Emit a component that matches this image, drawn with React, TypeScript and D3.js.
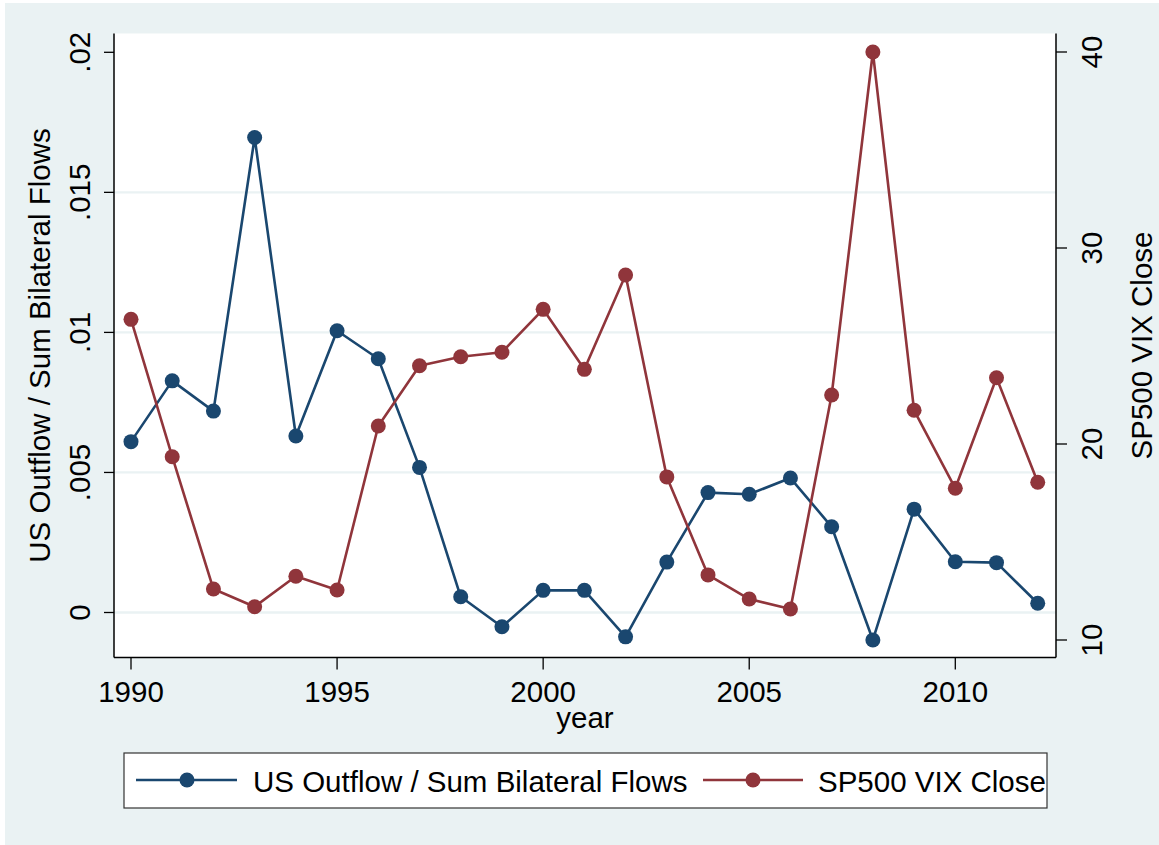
import React from "react";
import * as d3 from "d3";

const years = [1990,1991,1992,1993,1994,1995,1996,1997,1998,1999,2000,2001,2002,2003,2004,2005,2006,2007,2008,2009,2010,2011,2012];
const outflowShare = [0.0061,0.00827,0.00719,0.01696,0.0063,0.01006,0.00906,0.00518,0.00056,-0.00051,0.00079,0.00079,-0.00087,0.0018,0.00428,0.00422,0.0048,0.00306,-0.00098,0.00369,0.00181,0.00178,0.00033];
const vixClose = [26.36,19.35,12.6,11.7,13.25,12.55,20.92,23.99,24.45,24.68,26.87,23.81,28.62,18.32,13.32,12.09,11.58,22.5,40.0,21.72,17.74,23.38,18.05];
const xTicks = [1990,1995,2000,2005,2010];
const leftTicks = [0,0.005,0.01,0.015,0.02];
const leftTickLabels = ["0",".005",".01",".015",".02"];
const leftGrid = [0,0.005,0.01,0.015];
const rightTicks = [10,20,30,40];
const seriesNames = ["US Outflow / Sum Bilateral Flows","SP500 VIX Close"];
const xTitle = "year";

const NAVY = "#1a476f";
const MAROON = "#90353b";
const BG = "#eaf2f3";
const FONT = "'Liberation Sans', Arial, Helvetica, sans-serif";

export default function App() {
  const W = 1159, H = 845;
  const plot = { l: 114, r: 1056, t: 33.5, b: 657.5 };
  const x = d3.scaleLinear().domain([1990, 2010]).range([131, 955.3]);
  const yL = d3.scaleLinear().domain([0, 0.02]).range([612.5, 52.3]);
  const yR = d3.scaleLinear().domain([10, 40]).range([640, 52]);

  const lineL = d3.line<number>().x((_, i) => x(years[i])).y((d) => yL(d));
  const lineR = d3.line<number>().x((_, i) => x(years[i])).y((d) => yR(d));
  const cy = (plot.t + plot.b) / 2;
  const cx = (plot.l + plot.r) / 2;
  const fs = 29.5;

  return (
    <svg width={W} height={H} style={{ position: "absolute", left: 0, top: 0 }} fontFamily={FONT}>
      <rect x={0} y={0} width={W} height={H} fill="#ffffff" />
      <rect x={5} y={3} width={W - 5} height={H - 3} fill={BG} />
      <rect x={plot.l} y={plot.t} width={plot.r - plot.l} height={plot.b - plot.t} fill="#ffffff" />
      {leftGrid.map((v) => (
        <line key={"g" + v} x1={plot.l} x2={plot.r} y1={yL(v)} y2={yL(v)} stroke={BG} strokeWidth={2.3} />
      ))}
      {/* series */}
      <path d={lineL(outflowShare) || ""} fill="none" stroke={NAVY} strokeWidth={2.6} strokeLinejoin="round" />
      {outflowShare.map((v, i) => (
        <circle key={"b" + i} cx={x(years[i])} cy={yL(v)} r={7.5} fill={NAVY} />
      ))}
      <path d={lineR(vixClose) || ""} fill="none" stroke={MAROON} strokeWidth={2.6} strokeLinejoin="round" />
      {vixClose.map((v, i) => (
        <circle key={"r" + i} cx={x(years[i])} cy={yR(v)} r={7.5} fill={MAROON} />
      ))}
      {/* axes */}
      <line x1={plot.l} x2={plot.l} y1={plot.t} y2={plot.b} stroke="#000" strokeWidth={1.5} />
      <line x1={plot.r} x2={plot.r} y1={plot.t} y2={plot.b} stroke="#000" strokeWidth={1.5} />
      <line x1={plot.l} x2={plot.r} y1={plot.b} y2={plot.b} stroke="#000" strokeWidth={1.5} />
      {leftTicks.map((v, i) => (
        <g key={"lt" + v}>
          <line x1={plot.l - 10} x2={plot.l} y1={yL(v)} y2={yL(v)} stroke="#000" strokeWidth={1.3} />
          <text transform={`translate(90,${yL(v)}) rotate(-90)`} textAnchor="middle" fontSize={fs} fill="#000">
            {leftTickLabels[i]}
          </text>
        </g>
      ))}
      {rightTicks.map((v) => (
        <g key={"rt" + v}>
          <line x1={plot.r} x2={plot.r + 11} y1={yR(v)} y2={yR(v)} stroke="#000" strokeWidth={1.3} />
          <text transform={`translate(1102,${yR(v)}) rotate(-90)`} textAnchor="middle" fontSize={fs} fill="#000">
            {String(v)}
          </text>
        </g>
      ))}
      {xTicks.map((v) => (
        <g key={"xt" + v}>
          <line x1={x(v)} x2={x(v)} y1={plot.b} y2={plot.b + 12} stroke="#000" strokeWidth={1.3} />
          <text x={x(v)} y={702} textAnchor="middle" fontSize={fs} fill="#000">
            {String(v)}
          </text>
        </g>
      ))}
      <text x={cx} y={728} textAnchor="middle" fontSize={fs} fill="#000">{xTitle}</text>
      <text transform={`translate(50,${cy}) rotate(-90)`} textAnchor="middle" fontSize={fs} fill="#000">{seriesNames[0]}</text>
      <text transform={`translate(1152,${cy}) rotate(-90)`} textAnchor="middle" fontSize={fs} fill="#000">{seriesNames[1]}</text>
      {/* legend */}
      <rect x={124} y={753} width={923} height={55} fill="#ffffff" stroke="#333" strokeWidth={1.2} />
      <line x1={136} x2={237} y1={780} y2={780} stroke={NAVY} strokeWidth={2.6} />
      <circle cx={187} cy={780} r={7.5} fill={NAVY} />
      <text x={253} y={792} fontSize={fs} fill="#000">{seriesNames[0]}</text>
      <line x1={703} x2={803} y1={780} y2={780} stroke={MAROON} strokeWidth={2.6} />
      <circle cx={753} cy={780} r={7.5} fill={MAROON} />
      <text x={818} y={792} fontSize={fs} fill="#000">{seriesNames[1]}</text>
    </svg>
  );
}
